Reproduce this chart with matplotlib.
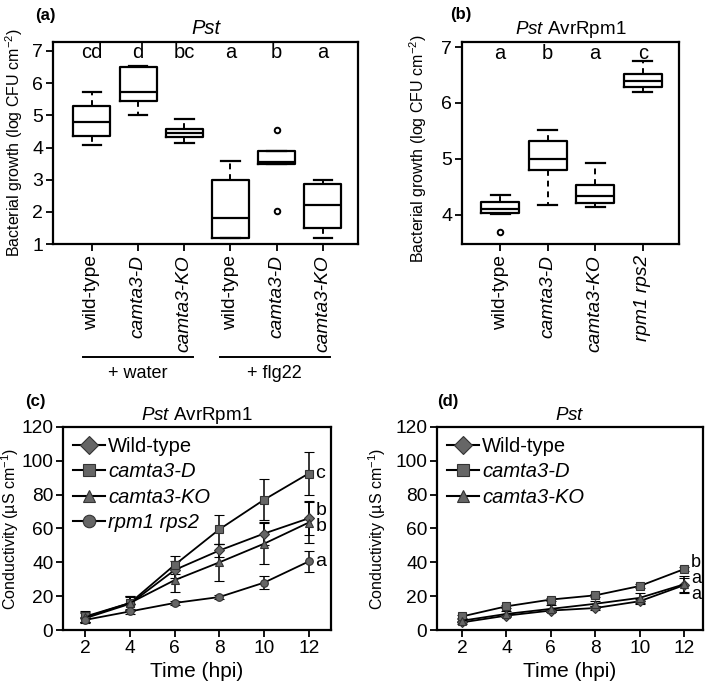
import matplotlib
matplotlib.use("Agg")
import matplotlib.pyplot as plt
from matplotlib.lines import Line2D

plt.rcParams['font.family'] = ['Liberation Sans', 'DejaVu Sans']
plt.rcParams['mathtext.fontset'] = 'custom'
plt.rcParams['mathtext.rm'] = 'Liberation Sans'
plt.rcParams['mathtext.it'] = 'Liberation Sans:italic'

# ---- panel (a) box stats: [whislo, q1, med, q3, whishi], fliers
a_labels = ['wild-type', 'camta3-D', 'camta3-KO', 'wild-type', 'camta3-D', 'camta3-KO']
a_italic = [False, True, True, False, True, True]
a_stats = [
    [4.07, 4.35, 4.78, 5.28, 5.73],
    [5.02, 5.45, 5.72, 6.50, 6.53],
    [4.13, 4.32, 4.45, 4.58, 4.88],
    [1.20, 1.20, 1.82, 3.00, 3.58],
    [3.50, 3.50, 3.55, 3.88, 3.88],
    [1.20, 1.50, 2.22, 2.87, 3.00],
]
a_fliers = [[], [], [], [], [4.55, 2.03], []]
a_letters = ['cd', 'd', 'bc', 'a', 'b', 'a']

# ---- panel (b)
b_labels = ['wild-type', 'camta3-D', 'camta3-KO', 'rpm1 rps2']
b_italic = [False, True, True, True]
b_stats = [
    [4.02, 4.04, 4.10, 4.23, 4.35],
    [4.18, 4.80, 5.00, 5.32, 5.52],
    [4.15, 4.22, 4.33, 4.53, 4.92],
    [6.20, 6.28, 6.40, 6.52, 6.75],
]
b_fliers = [[3.70], [], [], []]
b_letters = ['a', 'b', 'a', 'c']

# ---- panels (c) and (d): conductivity
hours = [2, 4, 6, 8, 10, 12]
wt_c = [7, 15.5, 35.5, 47, 57, 66]
wt_c_err = [3, 4, 5, 4, 7, 10]
d_c = [8, 16, 38.5, 59.5, 77, 92.5]
d_c_err = [3.5, 4, 5.5, 8.5, 12, 12.5]
ko_c = [7.5, 16, 29.5, 40, 51, 63.5]
ko_c_err = [3, 4, 7, 11, 12, 12]
rr_c = [6, 11, 16, 19.5, 28, 40.5]
rr_c_err = [1.5, 1.5, 1, 1, 4, 6]
c_letters = ['b', 'c', 'b', 'a']
c_letter_y = [70.5, 92.5, 61, 40.5]

wt_d = [4.5, 8.5, 11.5, 13, 17, 26.5]
wt_d_err = [1, 1, 1, 1, 1.5, 4]
d_d = [8, 14, 18, 20.5, 26, 36]
d_d_err = [1, 1, 1, 1, 1, 1]
ko_d = [5.5, 9.5, 12.5, 15.5, 19, 27]
ko_d_err = [1, 1.5, 2, 1.5, 3, 5]
d_letters = ['a', 'b', 'a']
d_letter_y = [21, 40, 30.5]

fig = plt.figure(figsize=(7.09, 6.86), dpi=100)
ax_a = fig.add_axes([0.0748, 0.6443, 0.4302, 0.2945])
ax_b = fig.add_axes([0.6516, 0.6443, 0.3061, 0.2945])
ax_c = fig.add_axes([0.0889, 0.0816, 0.3780, 0.2960])
ax_d = fig.add_axes([0.6164, 0.0816, 0.3751, 0.2960])

FS = 12
TFS = 13.5


def boxes(ax, stats, fliers, labels, italic, letters, ytop):
    bx = []
    for s, f, lab in zip(stats, fliers, labels):
        bx.append(dict(whislo=s[0], q1=s[1], med=s[2], q3=s[3], whishi=s[4],
                       fliers=f, label=lab))
    ax.bxp(bx, widths=0.8, patch_artist=False,
           boxprops=dict(color='black', linewidth=1.6),
           medianprops=dict(color='black', linewidth=1.6),
           whiskerprops=dict(color='black', linewidth=1.4, linestyle=(0, (3, 2.5))),
           capprops=dict(color='black', linewidth=1.6),
           flierprops=dict(marker='o', markersize=4, markerfacecolor='white',
                           markeredgecolor='black', markeredgewidth=1.4))
    for i, t in enumerate(letters):
        ax.text(i + 1, ytop, t, ha='center', va='center', fontsize=14.5)
    ax.tick_params(axis='y', labelsize=14, width=1.3, length=5, pad=2)
    ax.tick_params(axis='x', labelsize=13.8, width=1.3, length=5, pad=3)
    for lab, it in zip(ax.get_xticklabels(), italic):
        lab.set_rotation(90)
        if it:
            lab.set_fontstyle('italic')
    for sp in ax.spines.values():
        sp.set_linewidth(1.6)


boxes(ax_a, a_stats, a_fliers, a_labels, a_italic, a_letters, 6.95)
ax_a.set_ylim(1, 7.28)
ax_a.set_xlim(0.16, 6.76)
ax_a.set_yticks([1, 2, 3, 4, 5, 6, 7])
ax_a.set_ylabel('Bacterial growth (log CFU cm$^{-2}$)', fontsize=11.5)
ax_a.yaxis.set_label_coords(-0.093, 0.5)
ax_a.set_title('Pst', fontstyle='italic', fontsize=TFS + 1, pad=6)
ax_a.text(-0.06, 1.13, '(a)', transform=ax_a.transAxes, fontsize=FS,
          fontweight='bold', ha='left', va='center')

boxes(ax_b, b_stats, b_fliers, b_labels, b_italic, b_letters, 6.88)
ax_b.set_ylim(3.48, 7.09)
ax_b.set_xlim(0.2, 4.76)
ax_b.set_yticks([4, 5, 6, 7])
ax_b.set_ylabel('Bacterial growth (log CFU cm$^{-2}$)', fontsize=11.5)
ax_b.yaxis.set_label_coords(-0.15, 0.47)
ax_b.set_title('$\\mathit{Pst}$ AvrRpm1', fontsize=TFS, pad=6)
ax_b.text(-0.055, 1.135, '(b)', transform=ax_b.transAxes, fontsize=FS,
          fontweight='bold', ha='left', va='center')

# group lines under panel (a)
for x0, x1, txt in [(0.117, 0.272, '+ water'), (0.310, 0.465, '+ flg22')]:
    fig.add_artist(Line2D([x0, x1], [0.4796, 0.4796], color='black', linewidth=1.4,
                          transform=fig.transFigure))
    fig.text((x0 + x1) / 2, 0.456, txt, ha='center', va='center', fontsize=13)

grey = '#666666'


def series(ax, y, err, marker, ms):
    ax.errorbar(hours, y, yerr=err, color='black', linewidth=1.3, marker=marker,
                markersize=ms, markerfacecolor=grey, markeredgecolor='#333333',
                markeredgewidth=0.8, capsize=3.5, elinewidth=1.1, capthick=1.1)


def line_axes(ax, title, xlim, names, markers):
    ax.set_ylim(0, 120)
    ax.set_xlim(*xlim)
    ax.set_xticks(hours)
    ax.set_yticks(range(0, 121, 20))
    ax.set_xlabel('Time (hpi)', fontsize=15)
    ax.set_ylabel('Conductivity (\u00b5S cm$^{-1}$)', fontsize=11.5)
    ax.set_title(title, fontsize=TFS, pad=5)
    ax.tick_params(axis='both', labelsize=13.8, width=1.3, length=5, pad=2)
    for sp in ax.spines.values():
        sp.set_linewidth(1.6)
    handles = [Line2D([], [], color='black', linewidth=1.5, marker=m, markersize=9,
                      markerfacecolor=grey, markeredgecolor='#333333',
                      markeredgewidth=0.8) for m in markers]
    leg = ax.legend(handles, names, loc='upper left', frameon=False, fontsize=14.5,
                    handlelength=1.6, handletextpad=0.15, borderaxespad=0.1,
                    labelspacing=0.32)
    for t in leg.get_texts():
        if t.get_text() != 'Wild-type':
            t.set_fontstyle('italic')


series(ax_c, wt_c, wt_c_err, 'D', 5)
series(ax_c, d_c, d_c_err, 's', 5.5)
series(ax_c, ko_c, ko_c_err, '^', 5.5)
series(ax_c, rr_c, rr_c_err, 'o', 5.5)
line_axes(ax_c, '$\\mathit{Pst}$ AvrRpm1', (1, 13),
          ['Wild-type', 'camta3-D', 'camta3-KO', 'rpm1 rps2'], ['D', 's', '^', 'o'])
ax_c.yaxis.set_label_coords(-0.155, 0.5)
for y, t in zip(c_letter_y, c_letters):
    ax_c.text(12.3, y, t, va='center', ha='left', fontsize=14)
ax_c.text(-0.14, 1.123, '(c)', transform=ax_c.transAxes, fontsize=FS,
          fontweight='bold', ha='left', va='center')

series(ax_d, wt_d, wt_d_err, 'D', 5)
series(ax_d, d_d, d_d_err, 's', 5.5)
series(ax_d, ko_d, ko_d_err, '^', 5.5)
line_axes(ax_d, '$\\mathit{Pst}$', (0.88, 12.85),
          ['Wild-type', 'camta3-D', 'camta3-KO'], ['D', 's', '^'])
ax_d.yaxis.set_label_coords(-0.185, 0.5)
for y, t in zip(d_letter_y, d_letters):
    ax_d.text(12.3, y, t, va='center', ha='left', fontsize=13)
ax_d.text(0.0, 1.123, '(d)', transform=ax_d.transAxes, fontsize=FS,
          fontweight='bold', ha='left', va='center')

fig.savefig('out.png', dpi=100)
